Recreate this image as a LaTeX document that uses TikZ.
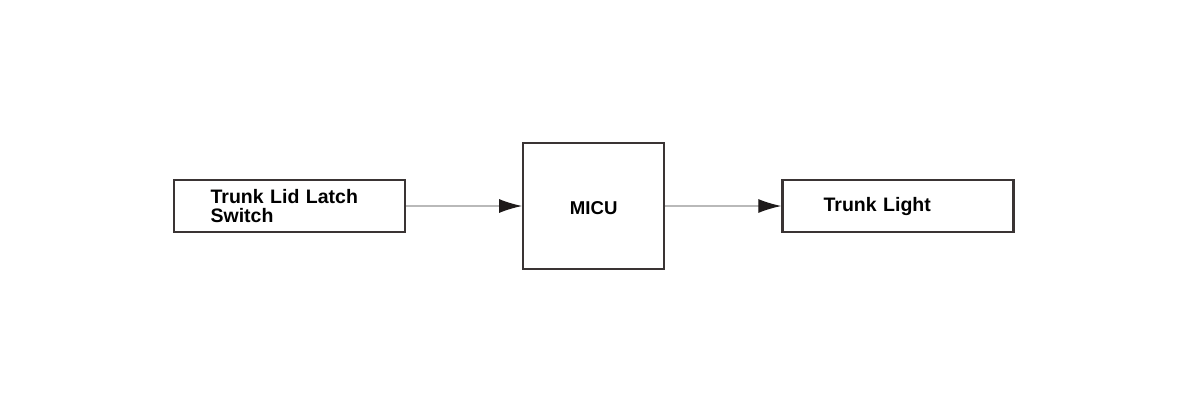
\documentclass[tikz,border=0pt]{standalone}
\usepackage{fontspec}
\setmainfont{Liberation Sans}
\usetikzlibrary{positioning,arrows.meta}
\definecolor{boxline}{RGB}{58,52,52}
\definecolor{wire}{RGB}{185,185,185}
\definecolor{tipfill}{RGB}{30,26,26}

\begin{document}
\begin{tikzpicture}[node distance=58pt,auto,>={Latex[length=11.5pt,width=7pt,color=tipfill]},
	block/.style={draw=boxline, line width=1.1pt, fill=white, font=\fontsize{9.75pt}{9.5pt}\selectfont\bfseries},
	wide/.style={block, minimum height=26pt, inner ysep=2pt, align=left},
	wire/.style={->, draw=wire, line width=0.6pt}]
		\useasboundingbox (0,0) rectangle (600pt,-207pt);
		\node [wide, inner xsep=18.3pt, text width=78.9pt] (switch) at (144.75pt,-103pt) {Trunk Lid Latch\\Switch};
		\node [block, minimum width=70.5pt, minimum height=63pt, font=\fontsize{9.3pt}{10pt}\selectfont\bfseries, text height=8.6pt, text depth=0pt] (micu) [right=of switch] {MICU};
		\node [wide, inner xsep=20.6pt, text width=74.3pt] (light) [right=of micu] {Trunk Light};
		
		\path[wire] (switch) edge (micu);
		\path[wire] (micu) edge (light);
		\end{tikzpicture}
\end{document}
